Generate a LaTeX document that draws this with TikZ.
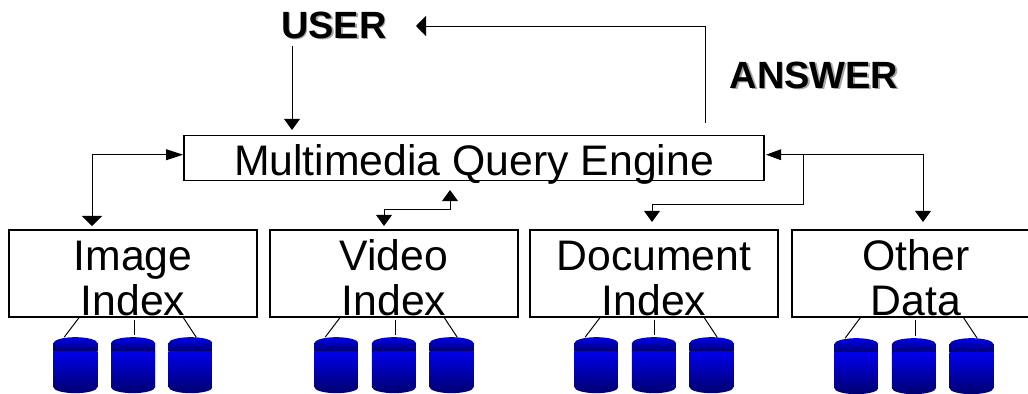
\documentclass[tikz,border=0pt]{standalone}
\usepackage{fontspec}
\setmainfont{Liberation Sans}
\usetikzlibrary{arrows.meta, positioning, calc}
\definecolor{drumlight}{RGB}{0,0,235}
\definecolor{drumdark}{RGB}{0,0,110}
\tikzset{
  tipsmall/.tip={Triangle[length=0.28cm,width=0.4cm]},
  tipwide/.tip={Triangle[length=0.25cm,width=0.5cm]},
  tiplong/.tip={Triangle[length=0.42cm,width=0.27cm]}
}
\tikzstyle{indexbox} = [rectangle, minimum width=6.2cm, minimum height=2.175cm, inner sep=0pt, align=center, text height=2.125cm, text depth=0pt, draw=black, line width=1.4pt, font=\fontsize{30.4}{32}\selectfont]
\tikzstyle{enginebox} = [rectangle, minimum width=14.5cm, minimum height=1.125cm, inner sep=0pt, text height=0.875cm, text depth=0pt, draw=black, line width=1.4pt, font=\fontsize{30.4}{32}\selectfont]
\tikzstyle{word} = [inner sep=0pt, text depth=0pt, font=\fontsize{27}{29}\selectfont\bfseries]
\tikzstyle{drum} = [rectangle, minimum width=1.1cm, minimum height=1.4cm, inner sep=0pt, outer sep=0pt]
\tikzstyle{arrow} = [line width=0.7pt]
\tikzstyle{leader} = [line width=0.7pt]

% shaded can with a darker lid, filling a drum node
\newcommand{\drumfill}[1]{
  \begin{scope}
    \clip ($(#1.north west)+(0,-0.15)$) arc[start angle=180, end angle=0, x radius=0.55, y radius=0.15] -- ($(#1.south east)+(0,0.15)$) arc[start angle=0, end angle=-180, x radius=0.55, y radius=0.15] -- cycle;
    \shade [top color=drumlight, middle color=drumdark!80!drumlight, bottom color=drumdark] (#1.north west) rectangle ($(#1.north east)+(0,-0.35)$);
    \shade [top color=drumlight, middle color=drumlight!85!drumdark, bottom color=drumdark] ($(#1.north west)+(0,-0.35)$) rectangle (#1.south east);
  \end{scope}
}

\begin{document}
\begin{tikzpicture}
\useasboundingbox (0,0) rectangle (25.7,-9.85);

% Labels at the top
\node (user-shadow) [word, text=gray!70] at (8.39,-0.665) {USER};
\node (user) [word] at (8.35,-0.625) {USER};
\node (answer-shadow) [word, text=gray!70] at (20.39,-1.915) {ANSWER};
\node (answer) [word] at (20.35,-1.875) {ANSWER};

% Query engine
\node (engine) [enginebox] at (11.85,-3.95) {Multimedia Query Engine};

% Index boxes
\node (image-box) [indexbox] at (3.325,-6.837) {Image\\Index};
\node (video-box) [indexbox, right=0.275cm of image-box] {Video\\Index};
\node (document-box) [indexbox, right=0.25cm of video-box] {Document\\Index};
\node (other-box) [indexbox, right=0.3cm of document-box] {Other\\Data};

% Image drums
\node (drum-a2) [drum, below=0.48cm of image-box] {};
\node (drum-a1) [drum, left=0.34cm of drum-a2] {};
\node (drum-a3) [drum, right=0.34cm of drum-a2] {};

% Video drums
\node (drum-b2) [drum, below=0.48cm of video-box] {};
\node (drum-b1) [drum, left=0.34cm of drum-b2] {};
\node (drum-b3) [drum, right=0.34cm of drum-b2] {};

% Document drums
\node (drum-c2) [drum, below=0.48cm of document-box] {};
\node (drum-c1) [drum, left=0.34cm of drum-c2] {};
\node (drum-c3) [drum, right=0.34cm of drum-c2] {};

% Other drums
\node (drum-d2) [drum, below=0.505cm of other-box, xshift=-0.05cm] {};
\node (drum-d1) [drum, left=0.34cm of drum-d2] {};
\node (drum-d3) [drum, right=0.34cm of drum-d2] {};

\drumfill{drum-a1} \drumfill{drum-a2} \drumfill{drum-a3}
\drumfill{drum-b1} \drumfill{drum-b2} \drumfill{drum-b3}
\drumfill{drum-c1} \drumfill{drum-c2} \drumfill{drum-c3}
\drumfill{drum-d1} \drumfill{drum-d2} \drumfill{drum-d3}

% Free ends of the connectors
\coordinate (user-out) at (7.3,-1.15);
\coordinate (user-in) at (7.3,-3.25);
\coordinate (answer-out) at (17.625,-3.075);
\coordinate (user-back) at (10.4,-0.65);
\coordinate (engine-left) at (4.575,-3.868);
\coordinate (image-in) at (2.3,-5.65);
\coordinate (video-in) at (9.6,-5.65);
\coordinate (video-bend) at (11.25,-5.225);
\coordinate (engine-under) at (11.25,-4.75);
\coordinate (engine-right) at (19.15,-3.868);
\coordinate (other-in) at (23.075,-5.55);
\coordinate (branch) at (20.075,-3.868);
\coordinate (document-bend) at (16.3,-5.1);
\coordinate (document-in) at (16.3,-5.55);

% Arrows
\draw [arrow, -tipsmall] (user-out) -- (user-in);
\draw [arrow, -tipwide] (answer-out) |- (user-back);
\draw [arrow, tipwide-tiplong] (image-in) |- (engine-left);
\draw [arrow, tipsmall-tipsmall] (video-in) |- (video-bend) -- (engine-under);
\draw [arrow, {Triangle[length=0.38cm,width=0.27cm]}-tipsmall] (engine-right) -| (other-in);
\draw [arrow, -tipsmall] (branch) |- (document-bend) -- (document-in);

% Leaders
\draw [leader] ($(image-box.south)+(-1.34,0.02)$) -- ($(drum-a1.north)+(-0.28,0)$);
\draw [leader, shorten <=0.05cm, shorten >=0.05cm] ($(image-box.south)+(0.04,0)$) -- ($(drum-a2.north)+(0.04,0)$);
\draw [leader] ($(image-box.south)+(1.25,0.02)$) -- ($(drum-a3.north)+(0.14,0)$);
\draw [leader] ($(video-box.south)+(-1.34,0.02)$) -- ($(drum-b1.north)+(-0.28,0)$);
\draw [leader, shorten <=0.05cm, shorten >=0.05cm] ($(video-box.south)+(0.04,0)$) -- ($(drum-b2.north)+(0.04,0)$);
\draw [leader] ($(video-box.south)+(1.25,0.02)$) -- ($(drum-b3.north)+(0.14,0)$);
\draw [leader] ($(document-box.south)+(-1.34,0.02)$) -- ($(drum-c1.north)+(-0.28,0)$);
\draw [leader, shorten <=0.05cm, shorten >=0.05cm] ($(document-box.south)+(0.02,0)$) -- ($(drum-c2.north)+(0.02,0)$);
\draw [leader] ($(document-box.south)+(1.25,0.02)$) -- ($(drum-c3.north)+(0.14,0)$);
\draw [leader] ($(other-box.south)+(-1.38,0.02)$) -- ($(drum-d1.north)+(-0.28,0)$);
\draw [leader, shorten <=0.05cm, shorten >=0.05cm] (other-box.south) -- ($(drum-d2.north)+(0.05,0)$);
\draw [leader] ($(other-box.south)+(1.18,0.02)$) -- ($(drum-d3.north)+(0.14,0)$);

\end{tikzpicture}
\end{document}
